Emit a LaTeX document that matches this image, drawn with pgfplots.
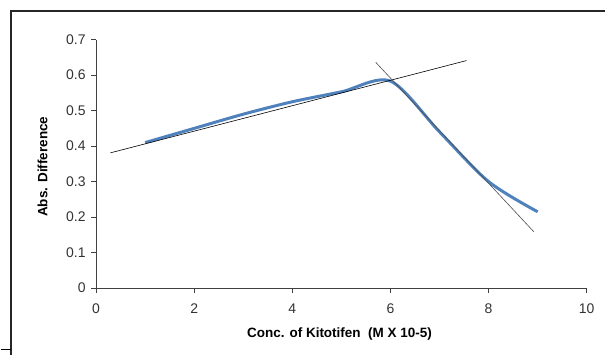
\documentclass[border=0pt]{standalone}
\usepackage{pgfplots}
\pgfplotsset{compat=1.18}
\usepackage{fontspec}
\setmainfont{Liberation Sans}
\definecolor{exblue}{RGB}{79,129,189}
\begin{document}
\begin{tikzpicture}
\path (0pt,0pt) rectangle (606pt,356pt);
\draw[line width=1.2pt,black!85] (10.5pt,0pt) -- (10.5pt,345pt) -- (606pt,345pt);
\draw[line width=1.2pt,black] (0pt,5.5pt) -- (10pt,5.5pt);
\begin{axis}[
  at={(95.7pt,67.3pt)}, anchor=origin,
  scale only axis, width=491.6pt, height=249pt,
  xmin=0, xmax=10, ymin=0, ymax=0.7,
  axis lines=left, axis line style={black!75, line width=1pt, -},
  xtick={0,2,...,10}, ytick={0,0.1,...,0.7},
  tick align=outside, major tick length=5pt,
  tick style={black!75, line width=0.8pt},
  /pgf/number format/assume math mode=true,
  yticklabel style={/pgf/number format/fixed, /pgf/number format/precision=1, font=\fontsize{14}{16}\selectfont, text=black!80, xshift=-2pt},
  xticklabel style={font=\fontsize{14}{16}\selectfont, text=black!80, yshift=-7pt},
  xlabel={Conc. of Kitotifen\ \ (M X 10-5)},
  ylabel={Abs. Difference},
  every axis x label/.style={at={(axis cs:4.96,-0.130)}, anchor=center, font=\fontsize{13.5}{16}\selectfont\bfseries},
  every axis y label/.style={at={(axis cs:-1.09,0.342)}, anchor=center, rotate=90, font=\fontsize{13.5}{16}\selectfont\bfseries},
  clip=false,
]
\addplot[exblue, line width=3pt, smooth, tension=0.5] coordinates {
 (1,0.41) (2,0.45) (3,0.49) (4,0.525) (5,0.553) (6,0.583) (7,0.44) (8,0.30) (9,0.215)
};
\addplot[black, line width=0.6pt] coordinates {(0.29,0.381) (7.55,0.641)};
\addplot[black!70, line width=0.6pt] coordinates {(5.70,0.636) (8.92,0.159)};
\end{axis}
\end{tikzpicture}
\end{document}
